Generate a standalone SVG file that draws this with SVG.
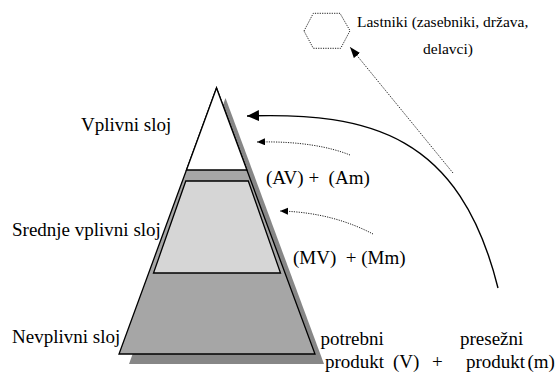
<svg xmlns="http://www.w3.org/2000/svg" width="556" height="374" viewBox="0 0 556 374">
<style>
.t{font-size:19px;fill:#000}
.ts{font-size:15.5px;fill:#000}
.ol{stroke:#000;stroke-width:1.3;stroke-linejoin:miter}
.dot{fill:none;stroke:#222;stroke-width:1;stroke-dasharray:1.2 1.2}
.solid{fill:none;stroke:#000;stroke-width:1.4}
</style>
<defs>
<marker id="bigHead" markerUnits="userSpaceOnUse" markerWidth="14" markerHeight="12" refX="12" refY="5.5" orient="auto">
<path d="M0,0 L12,5.5 L0,11 Z" fill="#000"/>
</marker>
<marker id="smallHead" markerUnits="userSpaceOnUse" markerWidth="10" markerHeight="8" refX="8" refY="3.5" orient="auto">
<path d="M0,0 L8,3.5 L0,7 Z" fill="#000"/>
</marker>
<marker id="midHead" markerUnits="userSpaceOnUse" markerWidth="12" markerHeight="10" refX="11" refY="4" orient="auto">
<path d="M0,0 L11,4 L0,8 Z" fill="#000"/>
</marker>
</defs>
<rect width="556" height="374" fill="#fff"/>

<g id="pyramid">
<polygon points="225.5,98 129,364 324,364" fill="#878787"/>
<polygon class="ol" points="216.5,88 119,354 315,354" fill="#a6a6a6"/>
<polygon class="ol" points="216.5,88 186.5,170 246.9,170" fill="#fff"/>
<polygon class="ol" points="185.8,181 248.3,181 280.5,273 153.5,273" fill="#d6d6d6"/>
</g>

<g font-family="Liberation Serif, Times New Roman, serif">
<g id="node-vplivni"><text class="t" x="81" y="131">Vplivni sloj</text></g>
<g id="node-srednje"><text class="t" x="12" y="236">Srednje vplivni sloj</text></g>
<g id="node-nevplivni"><text class="t" x="12" y="343">Nevplivni sloj</text></g>
<g id="label-a"><text class="t" x="266" y="184" xml:space="preserve">(AV) +  (Am)</text></g>
<g id="label-m"><text class="t" x="293" y="264" xml:space="preserve">(MV)  + (Mm)</text></g>
<g id="label-bottom">
<text class="t" x="320.5" y="345">potrebni</text>
<text class="t" x="460" y="345">presežni</text>
<text class="t" y="368"><tspan x="325">produkt</tspan><tspan x="393">(V)</tspan><tspan x="432">+</tspan><tspan x="466">produkt</tspan><tspan x="527.5">(m)</tspan></text>
</g>
<g id="node-lastniki">
<polygon class="dot" points="304,31 313.3,13.3 340,13.3 350,30.7 340.7,48.3 313.3,48.3"/>
<text class="ts" x="357" y="27">Lastniki (zasebniki, država,</text>
<text class="ts" x="423" y="54">delavci)</text>
</g>
</g>

<g id="connectors">
<path class="solid" d="M498,288 C460,135 370,112 247,116" marker-end="url(#bigHead)"/>
<path class="dot" d="M453,173 L350,47" marker-end="url(#midHead)"/>
<path class="dot" d="M350,155 C330,147 300,141 257,142" marker-end="url(#smallHead)"/>
<path class="dot" d="M373,234 C350,222 320,212 280,211" marker-end="url(#smallHead)"/>
</g>
</svg>
